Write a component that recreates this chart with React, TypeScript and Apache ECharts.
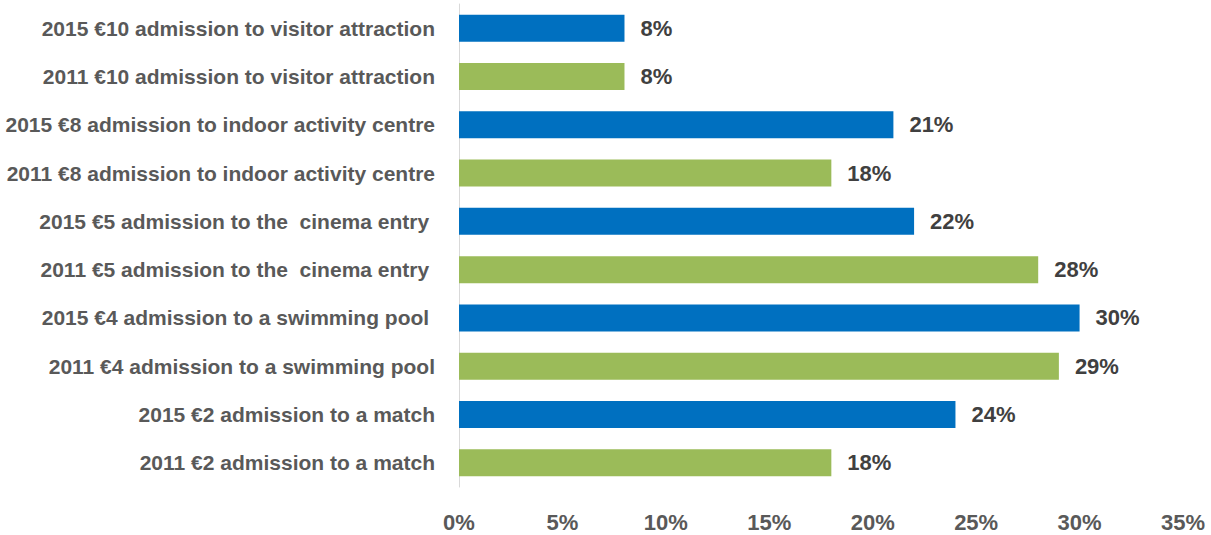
import React, { useEffect, useRef } from "react";
import * as echarts from "echarts";

const categories = [
  "2015 €10 admission to visitor attraction",
  "2011 €10 admission to visitor attraction",
  "2015 €8 admission to indoor activity centre",
  "2011 €8 admission to indoor activity centre",
  "2015 €5 admission to the  cinema entry ",
  "2011 €5 admission to the  cinema entry ",
  "2015 €4 admission to a swimming pool ",
  "2011 €4 admission to a swimming pool",
  "2015 €2 admission to a match",
  "2011 €2 admission to a match",
];
const years = ["2015", "2011", "2015", "2011", "2015", "2011", "2015", "2011", "2015", "2011"];
const values = [8, 8, 21, 18, 22, 28, 30, 29, 24, 18];
const xTicks = [0, 5, 10, 15, 20, 25, 30, 35];
const yearColors: Record<string, string> = { "2015": "#0070C0", "2011": "#9BBB59" };

const FONT = "'Liberation Sans Narrow', 'Arial Narrow', 'Liberation Sans', sans-serif";

export default function App() {
  const ref = useRef<HTMLDivElement>(null);
  useEffect(() => {
    if (!ref.current) return;
    const chart = echarts.init(ref.current, undefined, { renderer: "svg" });
    chart.setOption({
      animation: false,
      grid: { left: 459, top: 4, width: 724, height: 483, containLabel: false },
      xAxis: {
        type: "value",
        min: xTicks[0],
        max: xTicks[xTicks.length - 1],
        interval: 5,
        axisLine: { show: false },
        axisTick: { show: false },
        splitLine: { show: false },
        axisLabel: {
          formatter: "{value}%",
          color: "#595959",
          fontFamily: FONT,
          fontWeight: "bold",
          fontSize: 22,
          margin: 24,
        },
      },
      yAxis: {
        type: "category",
        inverse: true,
        data: categories,
        axisLine: { show: true, lineStyle: { color: "#D9D9D9", width: 1 } },
        axisTick: { show: false },
        axisLabel: {
          color: "#595959",
          fontFamily: FONT,
          fontWeight: "bold",
          fontSize: 21,
          margin: 24,
        },
      },
      series: [
        {
          type: "bar",
          barCategoryGap: "44%",
          data: values.map((v, i) => ({ value: v, itemStyle: { color: yearColors[years[i]] } })),
          label: {
            show: true,
            position: "right",
            distance: 16,
            formatter: "{c}%",
            color: "#404040",
            fontFamily: FONT,
            fontWeight: "bold",
            fontSize: 22,
          },
        },
      ],
    });
    return () => chart.dispose();
  }, []);
  return (
    <div
      ref={ref}
      style={{ position: "absolute", left: 0, top: 0, width: 1211, height: 535 }}
    />
  );
}
